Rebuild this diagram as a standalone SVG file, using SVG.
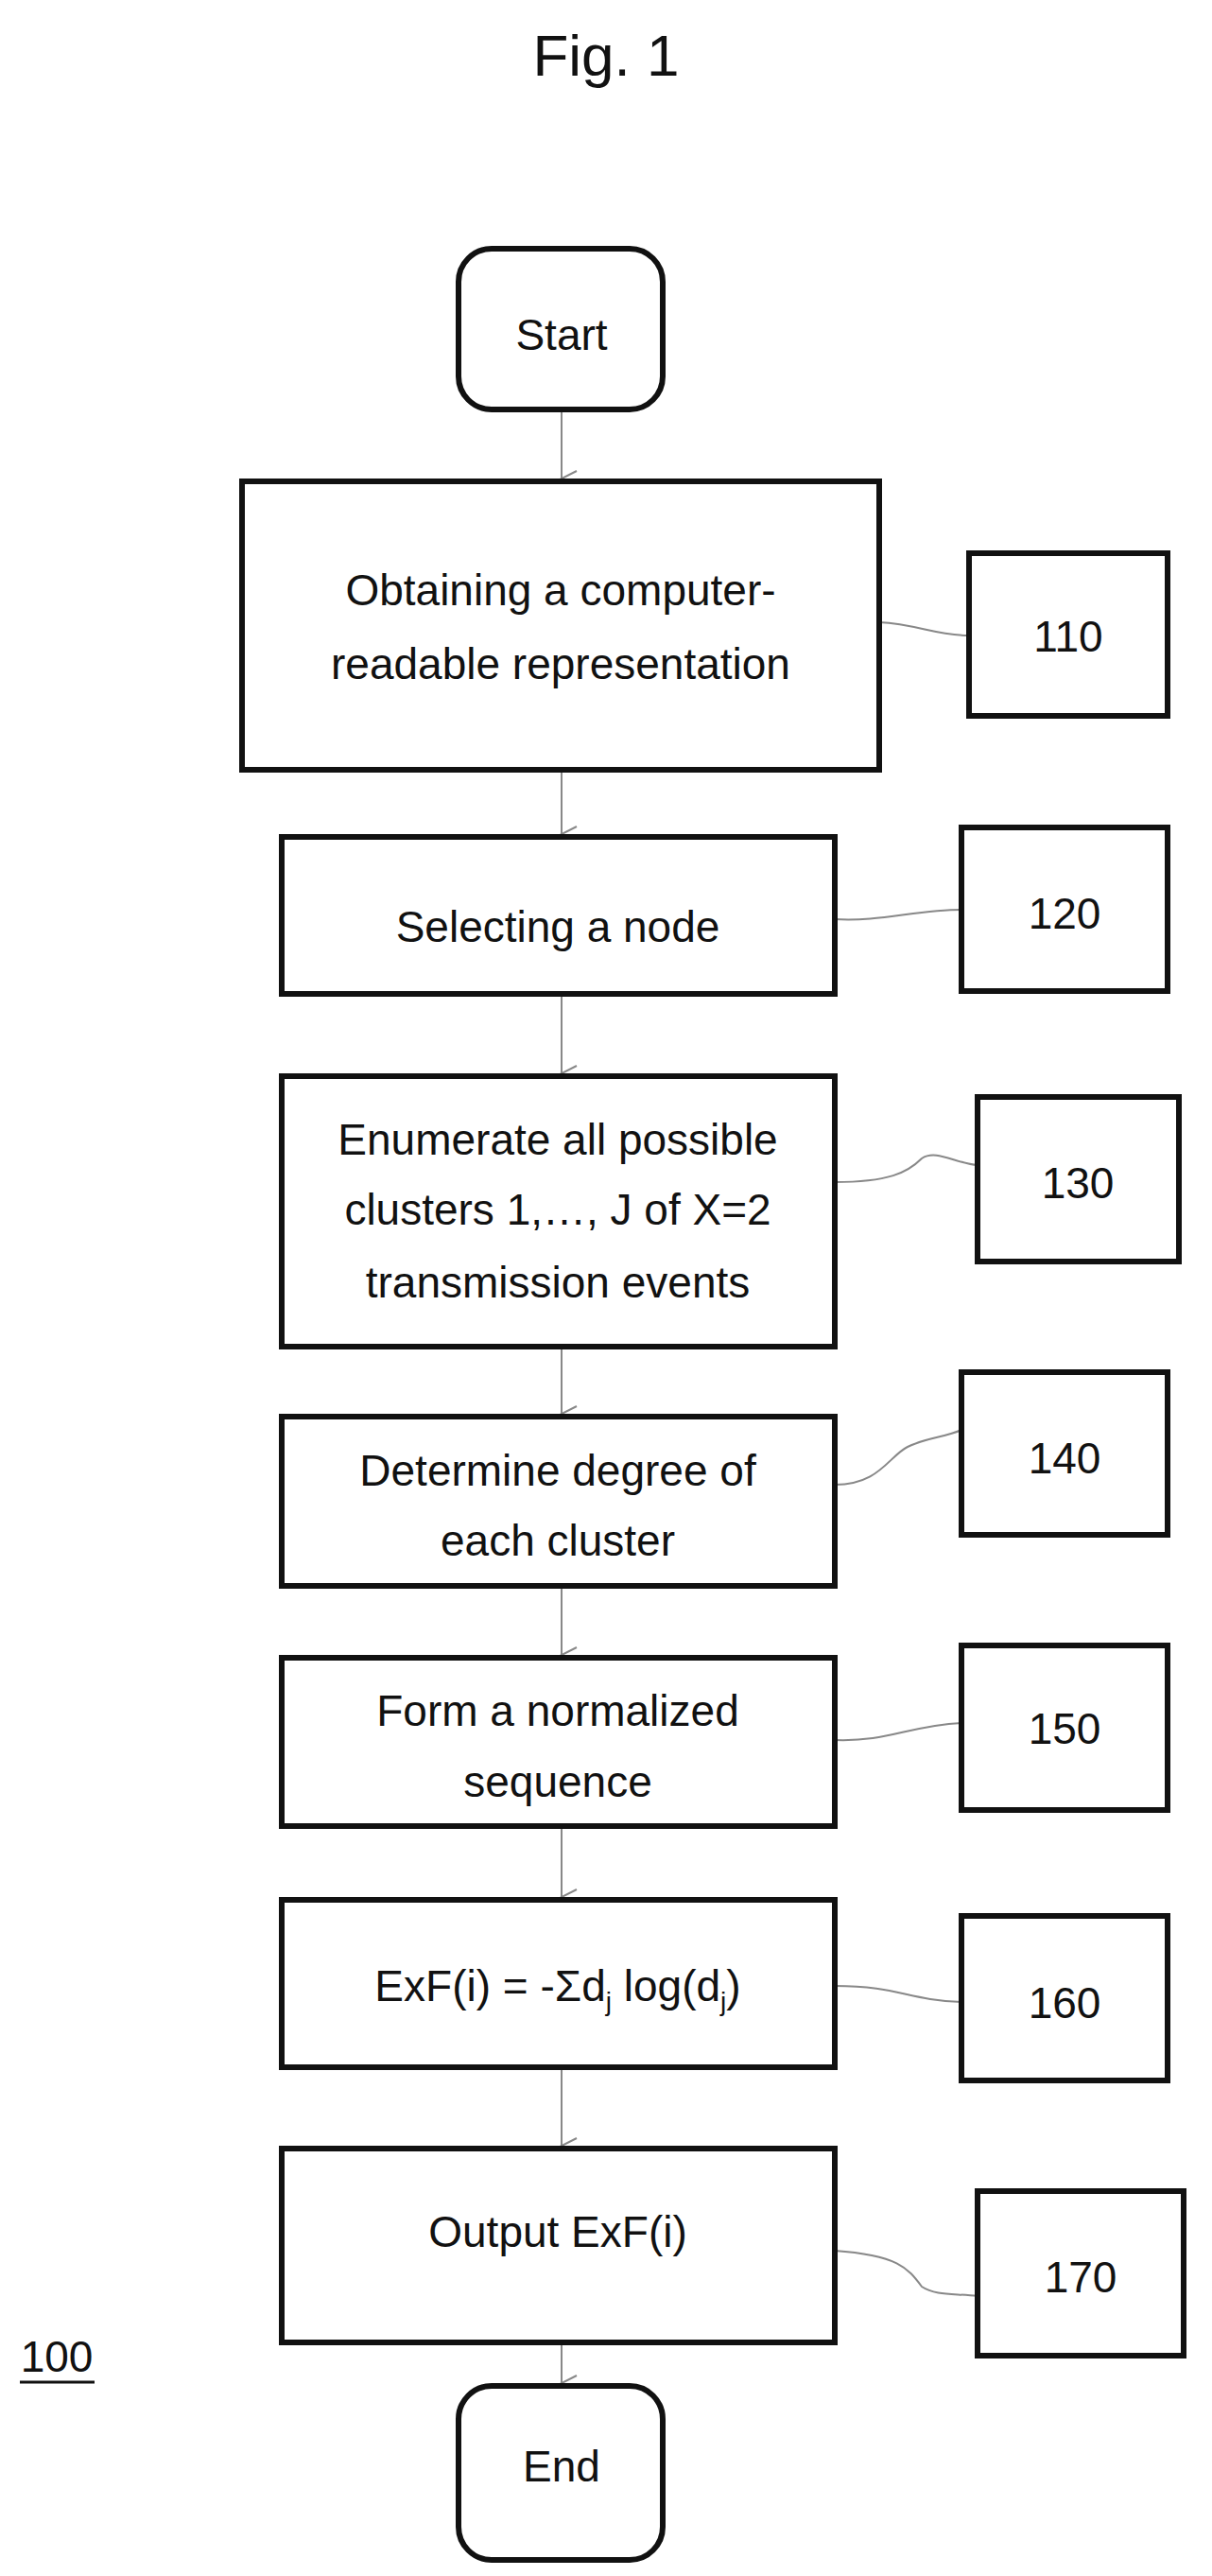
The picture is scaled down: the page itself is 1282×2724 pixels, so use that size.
<svg xmlns="http://www.w3.org/2000/svg" width="1282" height="2724" viewBox="0 0 1282 2724">
<style>
text{font-family:"Liberation Sans",Arial,sans-serif;font-size:46px;fill:#111;text-anchor:middle}
.b{fill:#fff;stroke:#111;stroke-width:6}
.c{fill:none;stroke:#888;stroke-width:2}
</style>
<defs><marker id="a" markerWidth="22" markerHeight="22" refX="10" refY="20" orient="auto-start-reverse" markerUnits="userSpaceOnUse"><path d="M2,4 L10,20 L18,4" fill="none" stroke="#888" stroke-width="2"/></marker></defs>
<rect width="1282" height="2724" fill="#fff"/>
<text x="641" y="80" style="font-size:62px">Fig. 1</text>
<g id="connectors">
<path class="c" d="M594,433 V506" marker-end="url(#a)"/>
<path class="c" d="M594,814 V882" marker-end="url(#a)"/>
<path class="c" d="M594,1051 V1135" marker-end="url(#a)"/>
<path class="c" d="M594,1424 V1495" marker-end="url(#a)"/>
<path class="c" d="M594,1677 V1750" marker-end="url(#a)"/>
<path class="c" d="M594,1931 V2006" marker-end="url(#a)"/>
<path class="c" d="M594,2186 V2269" marker-end="url(#a)"/>
<path class="c" d="M594,2477 V2520" marker-end="url(#a)"/>
<path class="c" d="M930,658 C970,660 990,672 1025,672"/>
<path class="c" d="M883,972 C930,975 970,962 1017,962"/>
<path class="c" d="M883,1250 C940,1250 960,1240 975,1225 C990,1215 1010,1230 1034,1232"/>
<path class="c" d="M883,1570 C930,1570 940,1540 960,1530 C980,1520 1000,1520 1017,1512"/>
<path class="c" d="M883,1840 C940,1842 960,1825 1017,1822"/>
<path class="c" d="M883,2100 C950,2100 960,2115 1017,2117"/>
<path class="c" d="M883,2380 C950,2385 960,2398 975,2418 C990,2428 1010,2425 1034,2428"/>
</g>
<g id="start"><rect class="b" x="485" y="263" width="216" height="170" rx="35"/><text x="594" y="370">Start</text></g>
<g id="n110"><rect class="b" x="256" y="509" width="674" height="305"/><text x="593" y="640">Obtaining a computer-</text><text x="593" y="718">readable representation</text></g>
<g id="l110"><rect class="b" x="1025" y="585" width="210" height="172"/><text x="1130" y="689">110</text></g>
<g id="n120"><rect class="b" x="298" y="885" width="585" height="166"/><text x="590" y="996">Selecting a node</text></g>
<g id="l120"><rect class="b" x="1017" y="875" width="218" height="173"/><text x="1126" y="982">120</text></g>
<g id="n130"><rect class="b" x="298" y="1138" width="585" height="286"/><text x="590" y="1221">Enumerate all possible</text><text x="590" y="1295">clusters 1,…, J of X=2</text><text x="590" y="1372">transmission events</text></g>
<g id="l130"><rect class="b" x="1034" y="1160" width="213" height="174"/><text x="1140" y="1267">130</text></g>
<g id="n140"><rect class="b" x="298" y="1498" width="585" height="179"/><text x="590" y="1571">Determine degree of</text><text x="590" y="1645">each cluster</text></g>
<g id="l140"><rect class="b" x="1017" y="1451" width="218" height="172"/><text x="1126" y="1558">140</text></g>
<g id="n150"><rect class="b" x="298" y="1753" width="585" height="178"/><text x="590" y="1825">Form a normalized</text><text x="590" y="1900">sequence</text></g>
<g id="l150"><rect class="b" x="1017" y="1740" width="218" height="174"/><text x="1126" y="1844">150</text></g>
<g id="n160"><rect class="b" x="298" y="2009" width="585" height="177"/><text x="590" y="2116">ExF(i) = -Σd<tspan font-size="28" dy="10">j</tspan><tspan dy="-10"> log(d</tspan><tspan font-size="28" dy="10">j</tspan><tspan dy="-10">)</tspan></text></g>
<g id="l160"><rect class="b" x="1017" y="2026" width="218" height="174"/><text x="1126" y="2134">160</text></g>
<g id="n170"><rect class="b" x="298" y="2272" width="585" height="205"/><text x="590" y="2376">Output ExF(i)</text></g>
<g id="l170"><rect class="b" x="1034" y="2317" width="218" height="174"/><text x="1143" y="2424">170</text></g>
<g id="end"><rect class="b" x="485" y="2523" width="216" height="184" rx="35"/><text x="594" y="2624">End</text></g>
<g id="ref100"><text x="60" y="2508">100</text><line x1="21" y1="2519" x2="100" y2="2519" stroke="#111" stroke-width="3"/></g>
</svg>
